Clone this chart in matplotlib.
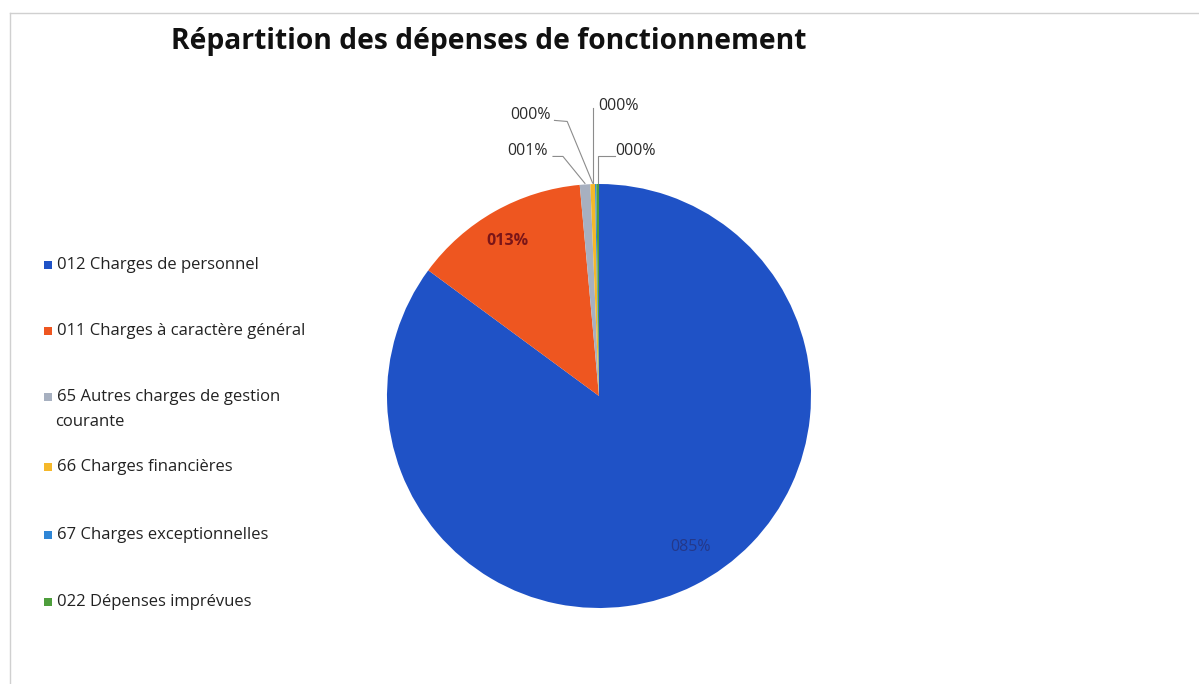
import matplotlib
matplotlib.use("Agg")
import matplotlib.pyplot as plt
import numpy as np
from matplotlib.patches import Rectangle
from matplotlib.lines import Line2D

plt.rcParams['font.family'] = ['Open Sans', 'DejaVu Sans']

# ---- data ----
categories = ["012 Charges de personnel",
              "011 Charges à caractère général",
              "65 Autres charges de gestion\ncourante",
              "66 Charges financières",
              "67 Charges exceptionnelles",
              "022 Dépenses imprévues"]
values = [85.1, 13.45, 0.8, 0.35, 0.1, 0.2]
pct_labels = ["085%", "013%", "001%", "000%", "000%", "000%"]
colors = ["#1F52C6", "#EE5620", "#A7B0C0", "#F5B82A", "#2F86D6", "#4E9E3C"]
label_colors = ["#24388A", "#7A1518", "#2B2B2B", "#2B2B2B", "#2B2B2B", "#2B2B2B"]
title = "Répartition des dépenses de fonctionnement"

W, H = 1199, 684
fig = plt.figure(figsize=(W/100, H/100), dpi=100)
fig.patch.set_facecolor("white")

def fx(px): return px / W
def fy(py): return 1 - py / H

# chart border
fig.add_artist(Line2D([fx(10), fx(1199)], [fy(13), fy(13)], color="#D0D0D0", lw=1))
fig.add_artist(Line2D([fx(10), fx(10)], [fy(13), fy(684)], color="#D0D0D0", lw=1))

# pie axes
cx, cy, r = 599, 396, 212
ax = fig.add_axes([fx(cx - r), fy(cy + r), 2*r/W, 2*r/H])
wedges, _ = ax.pie(values, colors=colors, startangle=90, counterclock=False,
                   radius=1.0, wedgeprops=dict(linewidth=0))
ax.set_xlim(-1, 1); ax.set_ylim(-1, 1)
ax.set_aspect('equal')
ax.axis('off')

# inside labels
inside_r = [0.80, 0.84]
inside_dx = [0.07, -0.02]
for i in range(2):
    w = wedges[i]
    ang = np.deg2rad((w.theta1 + w.theta2) / 2)
    ax.text(inside_r[i]*np.cos(ang) + inside_dx[i], inside_r[i]*np.sin(ang),
            pct_labels[i], ha='center', va='center', fontsize=11.5,
            color=label_colors[i], fontweight='bold' if i == 1 else 'normal')

# outside labels with leader lines (axes units)
out_text = {2: (-0.335, 1.156), 3: (-0.325, 1.325), 4: (0.09, 1.368), 5: (0.172, 1.156)}
leader = {2: [(-0.217, 1.13), (-0.17, 1.13)],
          3: [(-0.21, 1.30), (-0.15, 1.295)],
          4: [(-0.028, 1.36)],
          5: [(0.075, 1.132), (-0.005, 1.132)]}
for i, (tx, ty) in out_text.items():
    w = wedges[i]
    ang = np.deg2rad((w.theta1 + w.theta2) / 2)
    ex, ey = np.cos(ang)*1.005, np.sin(ang)*1.005
    pts = leader[i]
    xs = [p[0] for p in pts]
    ys = [p[1] for p in pts]
    if i in (4, 5):
        xs.append(xs[-1]); ys.append(ey)
    else:
        xs.append(ex); ys.append(ey)
    ax.plot(xs, ys, color="#8C8C8C", lw=0.8, clip_on=False)
    ax.text(tx, ty, pct_labels[i], ha='center', va='center', fontsize=11.5,
            color=label_colors[i], clip_on=False)

# title
fig.text(fx(489), fy(42), title, ha='center', va='center', fontsize=20.3,
         fontweight='bold', color="#111111")

# legend (manual)
leg_y = [265, 331, 397, 467, 535, 602]
for i, cat in enumerate(categories):
    y = leg_y[i]
    fig.add_artist(Rectangle((fx(44), fy(y + 4)), 8/W, 8/H, facecolor=colors[i],
                             edgecolor="none", transform=fig.transFigure))
    for k, line in enumerate(cat.split("\n")):
        fig.text(fx(57 if k == 0 else 55), fy(y + 25*k), line, ha='left', va='center',
                 fontsize=12, color="#222222")

fig.savefig("out.png", dpi=100, facecolor="white")
